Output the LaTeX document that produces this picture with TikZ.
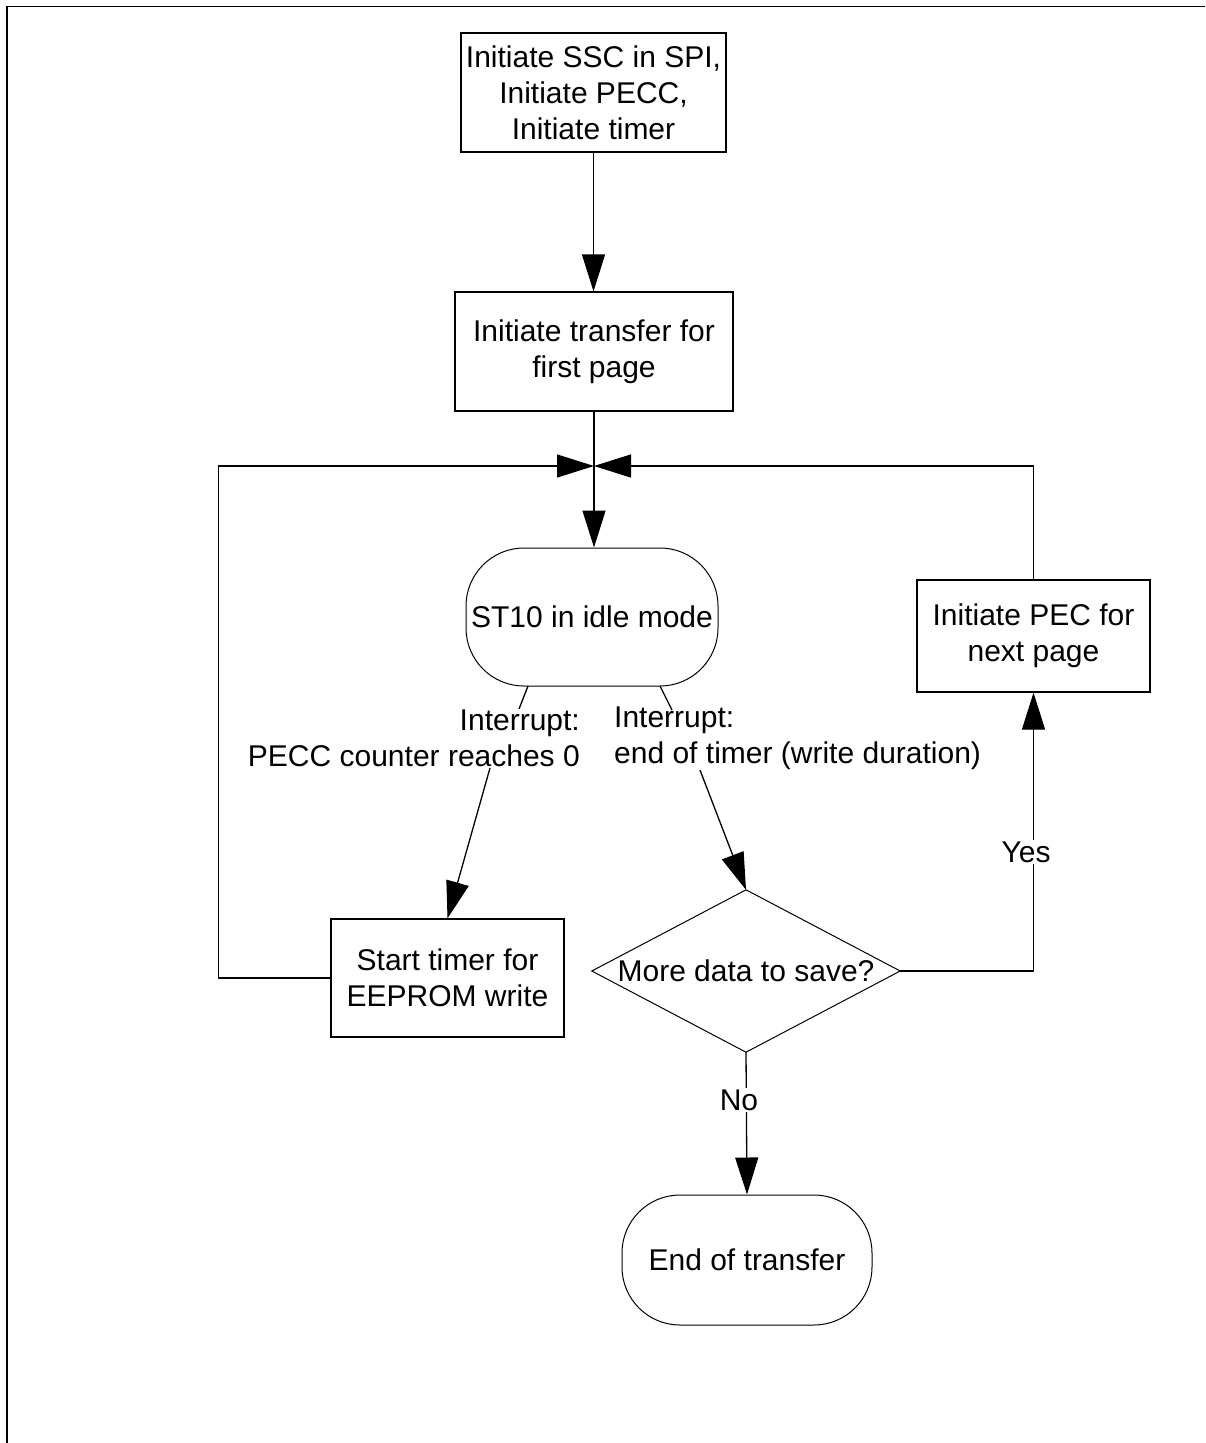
\documentclass[tikz,border=0pt]{standalone}
\usepackage{fontspec}
\setmainfont{Liberation Sans}
\usetikzlibrary{arrows.meta}
\begin{document}
\begin{tikzpicture}[x=1pt,y=-1pt,
  every node/.style={font=\fontsize{30}{36}\selectfont, inner sep=0pt},
  box/.style={draw, line width=1.3pt, align=center},
  term/.style={draw, line width=1pt, rounded corners=58pt, align=center},
  conn/.style={line width=1.3pt},
  arr/.style={conn, -{Triangle[length=37pt,width=23pt]}},
  lbl/.style={fill=white, inner sep=2pt}
]
\useasboundingbox (0,0) rectangle (1205,1443);
\draw[line width=1.6pt] (7,1443) -- (7,6.5) -- (1205,6.5);

\node[box, minimum width=265pt, minimum height=119pt] (init) at (593.5,92.5) {Initiate SSC in SPI,\\Initiate PECC,\\Initiate timer};
\node[box, minimum width=278pt, minimum height=119pt] (first) at (594,351.5) {Initiate transfer for\\first page};
\coordinate (j) at (594,466);
\node[term, minimum width=252pt, minimum height=138pt] (idle) at (592,617) {ST10 in idle mode};
\node[box, minimum width=233pt, minimum height=118pt] (start) at (447.5,978) {Start timer for\\EEPROM write};
\node[box, minimum width=233pt, minimum height=112pt] (pec) at (1033.5,636) {Initiate PEC for\\next page};
\node[minimum width=308pt, minimum height=162pt] (dec) at (746,971) {More data to save?};
\draw[line width=1pt] (dec.north) -- (dec.east) -- (dec.south) -- (dec.west) -- cycle;
\node[term, minimum width=250pt, minimum height=130pt] (end) at (747,1260) {End of transfer};
\node[align=right, anchor=east] (l1) at (580,738) {Interrupt:\\PECC counter reaches 0};
\node[align=left, anchor=west] (l2) at (614,738) {Interrupt:\\end of timer (write duration)};

\coordinate (a1) at (528,686);
\coordinate (b1) at (519,709);
\coordinate (c1) at (490,768);
\coordinate (a2) at (660,686);
\coordinate (b2) at (672,710);
\coordinate (c2) at (700,770);

\draw[arr] (init.south) -- (init.south |- first.north);
\draw[conn] (first.south) -- (j);
\draw[arr] (j) -- (idle.north -| j);
\draw[arr] (start.west) -- ++(-112,0) |- (j);
\draw[arr] (pec.north) |- (j);
\draw[conn] (a1) -- (b1);
\draw[arr] (c1) -- (start.north);
\draw[conn] (a2) -- (b2);
\draw[arr] (c2) -- (dec.north);
\draw[arr] (dec.east) -| (pec.south);
\node[lbl] (yes) at (1026,852) {Yes};
\draw[arr] (dec.south) -- (end.north);
\node[lbl] (no) at (739,1100) {No};
\end{tikzpicture}
\end{document}
